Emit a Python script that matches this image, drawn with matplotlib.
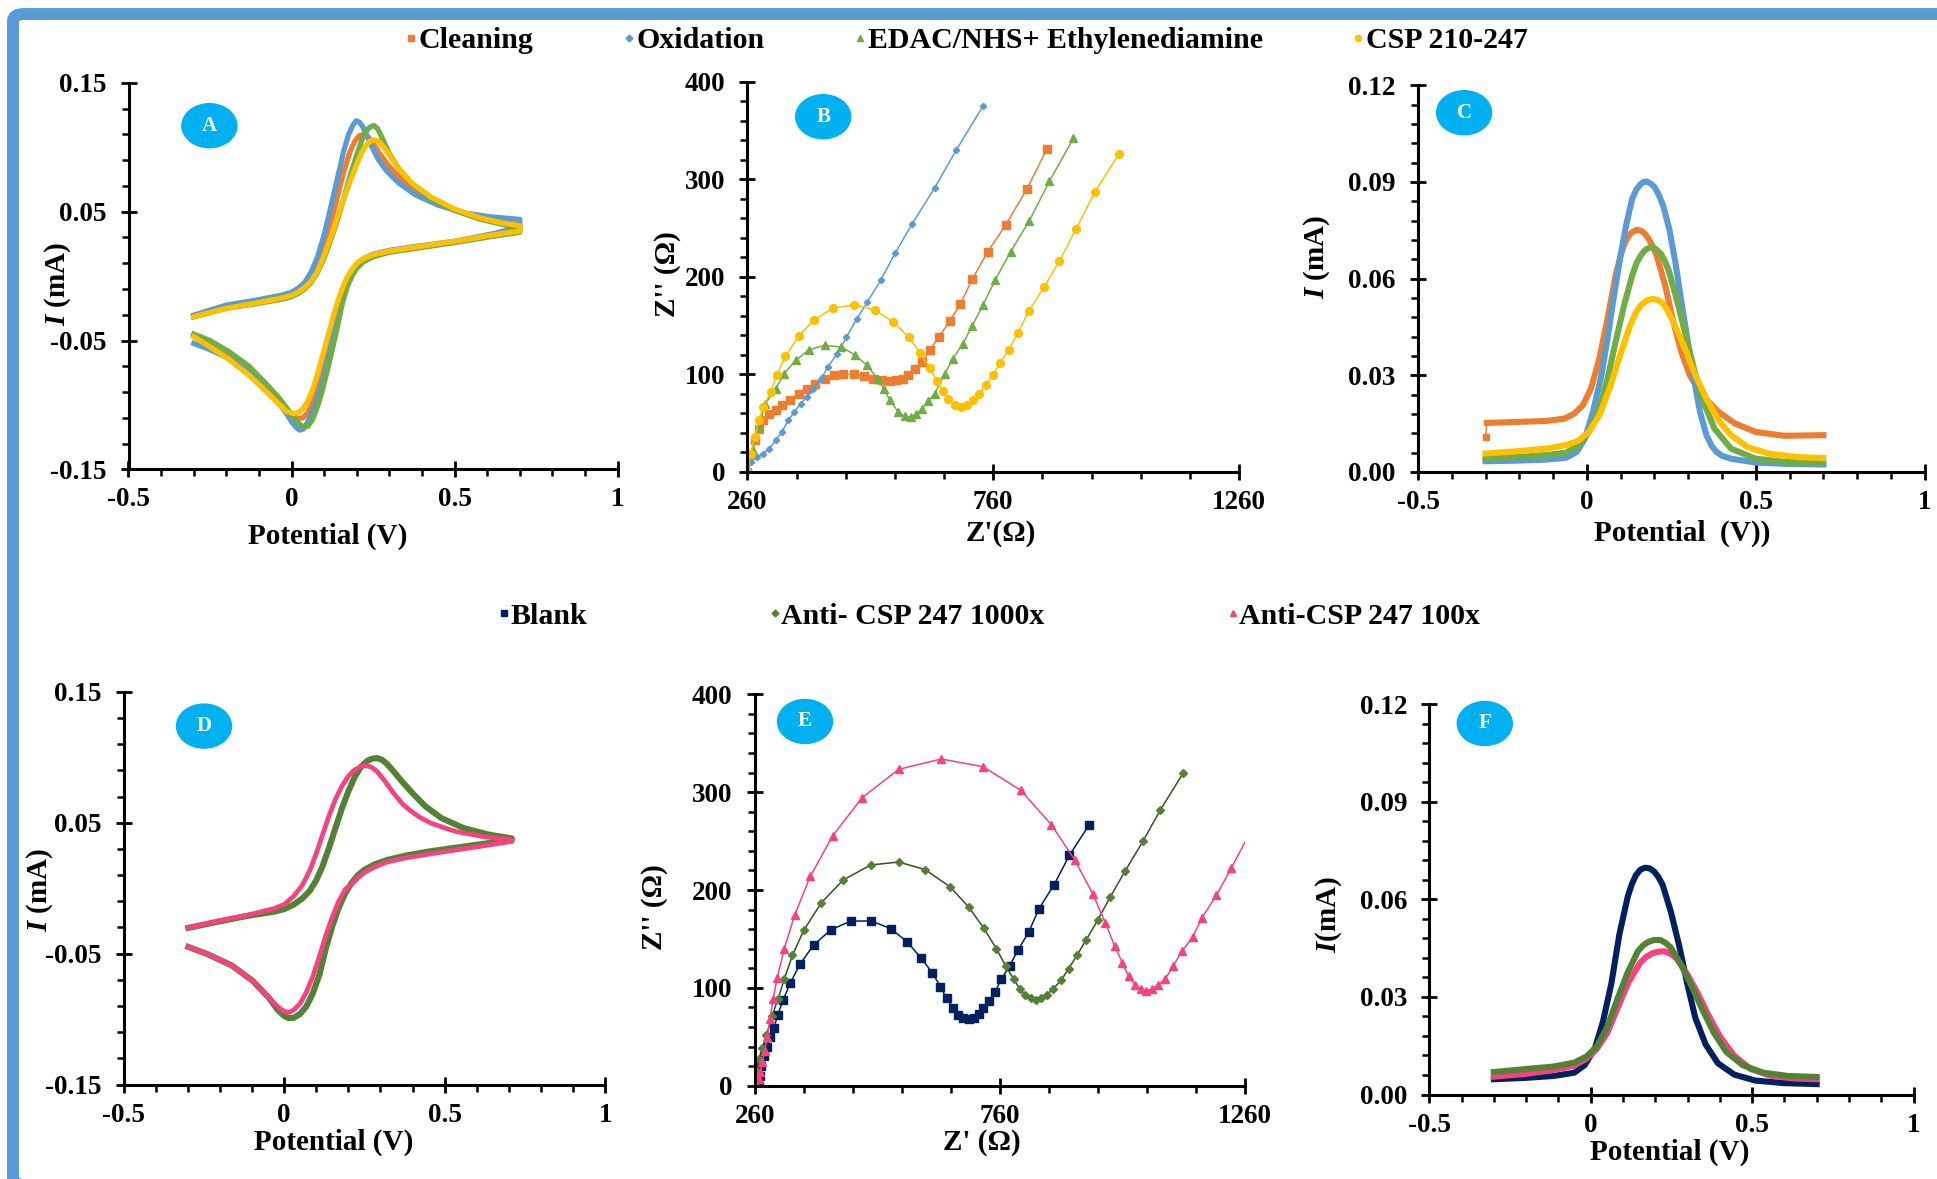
import matplotlib.pyplot as plt
from matplotlib.ticker import FixedLocator
from matplotlib.patches import Ellipse, FancyBboxPatch
from matplotlib.lines import Line2D
import numpy as np

plt.rcParams['font.family'] = 'Liberation Serif'
plt.rcParams['font.weight'] = 'bold'
plt.rcParams['axes.labelweight'] = 'bold'
plt.rcParams['mathtext.fontset'] = 'custom'
plt.rcParams['mathtext.it'] = 'Liberation Serif:italic:bold'
plt.rcParams['mathtext.rm'] = 'Liberation Serif:bold'

# colours
c_clean = '#ED7D31'
c_oxid = '#5B9BD5'
c_edac = '#70AD47'
c_csp = '#FFC000'
c_blank = '#002060'
c_anti1000 = '#548235'
c_anti1000_line = '#34521F'
c_anti100 = '#F7427F'
c_badge = '#00B0F0'
c_frame = '#5B9BD5'

top_labels = ['Cleaning', 'Oxidation', 'EDAC/NHS+ Ethylenediamine', 'CSP 210-247']
bot_labels = ['Blank', 'Anti- CSP 247 1000x', 'Anti-CSP 247 100x']

# ---------------- A : CV, modification steps (forward then reverse scan) ----------------
a_clean_v = [-0.30, -0.20, -0.11, -0.03, 0.00, 0.02, 0.04, 0.06, 0.08, 0.10, 0.12, 0.14, 0.16, 0.18, 0.195, 0.208, 0.221, 0.235, 0.25,
             0.27, 0.30, 0.34, 0.40, 0.47, 0.55, 0.63, 0.70,
             0.70, 0.62, 0.50, 0.38, 0.30, 0.25, 0.22, 0.20, 0.185, 0.17, 0.155, 0.14, 0.125, 0.11, 0.095, 0.08, 0.065, 0.05,
             0.035, 0.018, 0.00, -0.02, -0.05, -0.09, -0.14, -0.20, -0.26, -0.30]
a_clean_i = [-0.0316, -0.0245, -0.0205, -0.0165, -0.0140, -0.0112, -0.007, 0.000, 0.011, 0.025, 0.041, 0.061, 0.081, 0.097, 0.105, 0.109, 0.110, 0.108, 0.103,
             0.095, 0.085, 0.074, 0.063, 0.054, 0.047, 0.042, 0.040,
             0.035, 0.032, 0.0265, 0.0225, 0.0195, 0.0165, 0.013, 0.009, 0.004, -0.003, -0.014, -0.027, -0.042, -0.058, -0.073, -0.087, -0.098, -0.106,
             -0.110, -0.1106, -0.108, -0.102, -0.093, -0.083, -0.072, -0.062, -0.053, -0.047]

a_oxid_v = [-0.30, -0.20, -0.11, -0.03, 0.00, 0.02, 0.04, 0.06, 0.08, 0.10, 0.12, 0.14, 0.16, 0.175, 0.188, 0.198, 0.208, 0.218, 0.23,
            0.245, 0.265, 0.29, 0.33, 0.38, 0.45, 0.53, 0.61, 0.70,
            0.70, 0.62, 0.50, 0.38, 0.30, 0.25, 0.22, 0.20, 0.185, 0.17, 0.155, 0.14, 0.125, 0.11, 0.095, 0.08, 0.065, 0.05,
            0.037, 0.025, 0.012, 0.0, -0.02, -0.05, -0.09, -0.14, -0.20, -0.26, -0.30]
a_oxid_i = [-0.0303, -0.0225, -0.0187, -0.0148, -0.0125, -0.0095, -0.005, 0.003, 0.015, 0.032, 0.053, 0.075, 0.097, 0.110, 0.117, 0.1205, 0.1195, 0.116, 0.110,
            0.101, 0.091, 0.082, 0.072, 0.063, 0.055, 0.049, 0.046, 0.044,
            0.0383, 0.033, 0.027, 0.023, 0.020, 0.017, 0.0135, 0.009, 0.003, -0.006, -0.019, -0.034, -0.050, -0.066, -0.081, -0.094, -0.105, -0.113,
            -0.1185, -0.1195, -0.117, -0.113, -0.105, -0.095, -0.084, -0.073, -0.063, -0.056, -0.0523]

a_edac_v = [-0.30, -0.20, -0.11, -0.03, 0.00, 0.02, 0.04, 0.06, 0.08, 0.10, 0.12, 0.14, 0.16, 0.18, 0.20, 0.215, 0.23, 0.243, 0.253,
            0.265, 0.28, 0.30, 0.33, 0.37, 0.43, 0.50, 0.58, 0.65, 0.70,
            0.70, 0.62, 0.50, 0.38, 0.30, 0.25, 0.22, 0.20, 0.185, 0.17, 0.155, 0.14, 0.125, 0.11, 0.095, 0.08, 0.065, 0.05,
            0.037, 0.025, 0.01, -0.01, -0.04, -0.08, -0.13, -0.19, -0.25, -0.30]
a_edac_i = [-0.0316, -0.0250, -0.0215, -0.0180, -0.0160, -0.0135, -0.010, -0.005, 0.003, 0.014, 0.028, 0.043, 0.060, 0.078, 0.094, 0.105, 0.113, 0.1160, 0.1168,
            0.114, 0.106, 0.095, 0.083, 0.071, 0.060, 0.051, 0.044, 0.040, 0.037,
            0.034, 0.031, 0.026, 0.0215, 0.0185, 0.015, 0.011, 0.006, 0.000, -0.009, -0.022, -0.040, -0.057, -0.073, -0.088, -0.101, -0.111, -0.1165,
            -0.117, -0.115, -0.111, -0.104, -0.094, -0.083, -0.070, -0.059, -0.050, -0.045]

a_csp_v = [-0.30, -0.20, -0.11, -0.03, 0.00, 0.02, 0.04, 0.06, 0.08, 0.10, 0.12, 0.14, 0.16, 0.18, 0.20, 0.215, 0.23, 0.243, 0.253,
           0.265, 0.28, 0.30, 0.33, 0.37, 0.43, 0.50, 0.58, 0.65, 0.70,
           0.70, 0.62, 0.50, 0.38, 0.30, 0.25, 0.22, 0.20, 0.185, 0.17, 0.155, 0.14, 0.125, 0.11, 0.095, 0.08, 0.065, 0.05,
           0.035, 0.02, 0.005, -0.015, -0.04, -0.08, -0.13, -0.19, -0.25, -0.30]
a_csp_i = [-0.0316, -0.0250, -0.0210, -0.0170, -0.0150, -0.0125, -0.009, -0.004, 0.004, 0.016, 0.030, 0.045, 0.060, 0.074, 0.087, 0.096, 0.102, 0.105, 0.1057,
           0.105, 0.101, 0.094, 0.083, 0.072, 0.061, 0.052, 0.045, 0.041, 0.039,
           0.035, 0.032, 0.027, 0.0225, 0.0195, 0.0165, 0.0135, 0.010, 0.005, -0.001, -0.010, -0.021, -0.034, -0.048, -0.062, -0.076, -0.088, -0.097,
           -0.103, -0.106, -0.1067, -0.105, -0.099, -0.089, -0.077, -0.065, -0.055, -0.047]

# ---------------- B : Nyquist, modification steps ----------------
b_clean_zr = [260, 266.8, 275.2, 283.7, 292.1, 304.8, 317.5, 330.2, 347.1, 364.1, 381.0, 397.9, 417.4, 436.0, 454.6, 476.6, 497.0, 516.3, 533.3,
              550.2, 562.9, 575.6, 586.6, 600.9, 615.3, 630.6, 649.2, 671.2, 693.2, 717.7, 749.0, 785.4, 828.5, 869.1]
b_clean_zi = [0, 18.8, 32.4, 44.3, 52.8, 59.7, 63.8, 68.2, 74.0, 80.1, 85.2, 90.4, 95.5, 98.9, 99.9, 99.9, 98.2, 95.5, 93.8,
              93.1, 93.8, 95.5, 98.9, 105.7, 112.5, 124.4, 138.1, 154.1, 172.2, 197.7, 225.7, 253.0, 289.8, 330.7]

b_oxid_zr = [260, 266.8, 279.5, 292.1, 304.8, 317.5, 330.2, 342.9, 355.6, 368.3, 381.0, 393.7, 410.6, 423.3, 442.7, 461.4, 482.5,
             503.7, 531.6, 560.3, 595.0, 640.7, 684.7, 738.8]
b_oxid_zi = [0, 10.2, 15.3, 18.8, 23.9, 32.4, 40.9, 52.8, 61.4, 69.9, 76.7, 85.2, 95.5, 107.4, 121.0, 138.1, 156.8,
             173.9, 196.7, 224.0, 254.0, 290.8, 329.7, 374.4]

b_edac_zr = [260, 271.0, 283.7, 296.4, 317.5, 334.4, 358.1, 385.2, 417.4, 451.2, 478.3, 503.7, 524.8, 537.5, 550.2, 567.1, 579.8, 592.5,
             603.5, 615.3, 628.0, 640.7, 661.9, 677.9, 698.2, 716.8, 738.8, 764.2, 795.5, 833.6, 874.2, 923.3]
b_edac_zi = [0, 22.2, 46.0, 69.9, 85.2, 100.6, 114.2, 125.1, 129.6, 127.9, 120.0, 109.1, 95.5, 85.2, 73.3, 61.4, 56.9, 56.3,
             59.0, 64.8, 72.6, 80.1, 100.6, 115.9, 131.3, 149.3, 170.5, 196.7, 225.7, 257.4, 297.6, 342.0]

b_csp_zr = [260, 266.8, 275.2, 283.7, 292.1, 307.4, 319.2, 337.0, 364.1, 395.4, 434.3, 476.6, 518.9, 557.0, 588.3, 611.9, 630.6, 645.8,
            658.5, 668.6, 681.3, 694.0, 706.7, 719.4, 732.1, 744.8, 759.1, 774.4, 791.3, 810.8, 831.9, 863.2, 894.5, 928.4, 966.4, 1015.5]
b_csp_zi = [0, 18.8, 35.8, 52.8, 66.5, 81.8, 98.9, 118.3, 138.8, 155.8, 167.7, 171.2, 166.0, 153.4, 138.1, 121.7, 106.7, 92.7,
            82.5, 74.3, 68.9, 66.5, 68.2, 74.0, 80.1, 88.6, 98.9, 111.5, 125.1, 142.5, 164.7, 189.2, 215.8, 248.9, 286.4, 325.6]

# ---------------- C : DPV, modification steps ----------------
c_clean_v = [-0.300, -0.296, -0.207, -0.122, -0.067, -0.037, -0.012, 0.012, 0.037, 0.061, 0.085, 0.100, 0.112, 0.122, 0.134, 0.147, 0.159,
             0.171, 0.183, 0.195, 0.207, 0.232, 0.256, 0.280, 0.305, 0.341, 0.390, 0.439, 0.500, 0.585, 0.700]
c_clean_i = [0.0108, 0.0152, 0.0155, 0.0158, 0.0165, 0.0181, 0.0207, 0.0258, 0.0351, 0.0475, 0.0609, 0.0672, 0.0710, 0.0730, 0.0744, 0.0751, 0.0749,
             0.0740, 0.0723, 0.0700, 0.0671, 0.0578, 0.0465, 0.0372, 0.0299, 0.0238, 0.0186, 0.0150, 0.0124, 0.0112, 0.0114]

c_oxid_v = [-0.300, -0.207, -0.122, -0.061, -0.030, -0.006, 0.018, 0.043, 0.061, 0.079, 0.098, 0.116, 0.134, 0.147, 0.159, 0.168, 0.177,
            0.189, 0.201, 0.213, 0.226, 0.244, 0.262, 0.280, 0.299, 0.317, 0.335, 0.354, 0.370, 0.384, 0.400, 0.427, 0.500, 0.585, 0.700]
c_oxid_i = [0.0033, 0.0035, 0.0038, 0.0044, 0.0062, 0.0103, 0.0186, 0.0299, 0.0413, 0.0537, 0.0661, 0.0764, 0.0847, 0.0877, 0.0893, 0.0900, 0.0901,
            0.0895, 0.0883, 0.0860, 0.0826, 0.0754, 0.0651, 0.0527, 0.0403, 0.0289, 0.0186, 0.0114, 0.0080, 0.0062, 0.0050, 0.0041, 0.0029, 0.0025, 0.0023]

c_edac_v = [-0.300, -0.207, -0.122, -0.061, -0.024, 0.006, 0.037, 0.061, 0.085, 0.110, 0.134, 0.147, 0.159, 0.174, 0.189, 0.204, 0.220,
            0.232, 0.244, 0.268, 0.293, 0.317, 0.341, 0.378, 0.427, 0.500, 0.585, 0.700]
c_edac_i = [0.0043, 0.0046, 0.0052, 0.0060, 0.0083, 0.0124, 0.0196, 0.0289, 0.0403, 0.0516, 0.0609, 0.0648, 0.0671, 0.0690, 0.0697, 0.0692, 0.0676,
            0.0652, 0.0620, 0.0527, 0.0423, 0.0320, 0.0227, 0.0134, 0.0072, 0.0041, 0.0031, 0.0028]

c_csp_v = [-0.300, -0.207, -0.122, -0.061, -0.024, 0.006, 0.037, 0.067, 0.098, 0.128, 0.144, 0.159, 0.177, 0.195, 0.210, 0.226, 0.241,
           0.256, 0.287, 0.317, 0.354, 0.390, 0.427, 0.476, 0.537, 0.622, 0.700]
c_csp_i = [0.0057, 0.0064, 0.0072, 0.0083, 0.0098, 0.0124, 0.0176, 0.0258, 0.0361, 0.0454, 0.0492, 0.0516, 0.0532, 0.0537, 0.0533, 0.0522, 0.0497,
           0.0465, 0.0392, 0.0310, 0.0227, 0.0160, 0.0114, 0.0077, 0.0057, 0.0046, 0.0043]

# ---------------- D : CV, antibody ----------------
d_a1000_v = [-0.298, -0.202, -0.111, -0.034, 0.00, 0.03, 0.057, 0.08, 0.10, 0.12, 0.14, 0.16, 0.18, 0.20, 0.22, 0.24, 0.26, 0.275, 0.289,
             0.305, 0.32, 0.34, 0.367, 0.40, 0.44, 0.49, 0.56, 0.638, 0.709,
             0.709, 0.638, 0.535, 0.45, 0.38, 0.32, 0.28, 0.25, 0.23, 0.21, 0.19, 0.17, 0.15, 0.13, 0.11, 0.09, 0.07, 0.05,
             0.03, 0.015, 0.0, -0.02, -0.047, -0.098, -0.163, -0.240, -0.298]
d_a1000_i = [-0.0303, -0.0254, -0.0210, -0.0181, -0.0160, -0.0125, -0.0078, -0.002, 0.006, 0.017, 0.031, 0.046, 0.061, 0.074, 0.085, 0.093, 0.0975, 0.0990, 0.0994,
             0.0980, 0.0950, 0.0895, 0.0815, 0.0725, 0.0625, 0.0535, 0.0458, 0.0409, 0.0380,
             0.0369, 0.0345, 0.0310, 0.0280, 0.0250, 0.0215, 0.0180, 0.0140, 0.0100, 0.0040, -0.0040, -0.0150, -0.0290, -0.0460, -0.0660, -0.0800, -0.0900, -0.0960,
             -0.0990, -0.0993, -0.0975, -0.0930, -0.0838, -0.0707, -0.0590, -0.0502, -0.0449]

d_a100_v = [-0.298, -0.202, -0.111, -0.034, 0.00, 0.03, 0.057, 0.08, 0.10, 0.12, 0.14, 0.16, 0.18, 0.20, 0.22, 0.24, 0.257, 0.272, 0.29,
            0.31, 0.341, 0.37, 0.393, 0.42, 0.457, 0.50, 0.535, 0.625, 0.709,
            0.709, 0.625, 0.522, 0.45, 0.38, 0.32, 0.28, 0.25, 0.23, 0.21, 0.19, 0.17, 0.15, 0.13, 0.11, 0.09, 0.07, 0.05,
            0.03, 0.015, 0.0, -0.02, -0.047, -0.098, -0.163, -0.240, -0.298]
d_a100_i = [-0.0303, -0.0248, -0.0204, -0.0157, -0.0125, -0.0060, 0.0024, 0.0135, 0.0265, 0.0410, 0.0555, 0.0680, 0.0780, 0.0855, 0.0905, 0.0930, 0.0935, 0.0925, 0.0890,
            0.0830, 0.0725, 0.0640, 0.0593, 0.0545, 0.0497, 0.0460, 0.0433, 0.0392, 0.0369,
            0.0357, 0.0325, 0.0287, 0.0260, 0.0232, 0.0200, 0.0160, 0.0120, 0.0080, 0.0030, -0.0010, -0.0100, -0.0220, -0.0360, -0.0520, -0.0670, -0.0790, -0.0880,
            -0.0930, -0.0949, -0.0940, -0.0905, -0.0838, -0.0707, -0.0590, -0.0502, -0.0449]

# ---------------- E : Nyquist, antibody ----------------
e_blank_zr = [267.6, 270.1, 273.5, 278.5, 284.5, 291.2, 298.8, 307.2, 317.3, 332.5, 352.7, 379.7, 415.1, 455.6, 497.8, 537.4, 571.1, 599.0,
              621.7, 638.6, 651.2, 663.9, 674.8, 685.0, 695.9, 706.0, 716.2, 725.4, 737.2, 749.9, 762.5, 779.4, 796.3, 818.2, 839.3, 870.5, 901.7, 942.1]
e_blank_zi = [0, 10.5, 20.3, 30.0, 39.8, 49.5, 59.3, 72.8, 87.2, 105.2, 124.6, 143.7, 159.3, 168.3, 168.3, 160.5, 146.8, 130.5,
              115.7, 101.3, 89.2, 79.8, 72.8, 68.9, 68.2, 69.7, 73.6, 79.1, 86.9, 96.2, 108.7, 122.3, 138.3, 156.6, 180.7, 205.6, 235.6, 266.8]

e_a1000_zr = [260.0, 263.4, 268.4, 275.2, 283.6, 295.4, 307.2, 319.9, 336.7, 360.3, 395.8, 440.4, 496.1, 553.4, 607.4, 658.0, 695.9, 727.1,
              752.4, 771.8, 787.8, 800.5, 811.4, 822.4, 833.4, 844.3, 856.1, 868.8, 884.8, 900.0, 916.8, 935.4, 959.0, 984.3, 1015.5, 1051.7, 1087.2, 1133.5]
e_a1000_zi = [6.6, 16.4, 26.9, 38.6, 51.4, 71.7, 88.4, 108.7, 133.2, 159.3, 187.0, 210.3, 225.5, 228.6, 220.8, 203.3, 182.7, 160.9,
              140.2, 122.3, 109.1, 98.9, 92.3, 89.2, 87.6, 89.2, 93.1, 99.3, 107.9, 119.6, 133.2, 148.8, 169.0, 192.4, 219.7, 250.0, 282.0, 319.4]

e_a100_zr = [265.1, 267.6, 271.0, 275.2, 280.2, 285.3, 291.2, 297.1, 305.5, 319.9, 341.0, 373.0, 418.5, 478.4, 553.4, 640.3, 725.4, 802.2,
             864.6, 912.6, 949.7, 975.0, 993.6, 1009.6, 1022.2, 1035.7, 1047.5, 1057.6, 1069.4, 1083.0, 1096.4, 1113.3, 1131.8, 1152.9, 1171.5,
             1201.0, 1231.3, 1271.0]
e_a100_zi = [0, 6.6, 14.4, 24.1, 35.8, 49.5, 68.2, 88.4, 109.8, 139.8, 174.1, 213.8, 255.1, 294.1, 323.3, 333.8, 326.0, 301.9,
             266.8, 230.6, 195.5, 166.3, 142.9, 125.4, 111.8, 103.2, 99.3, 97.0, 98.9, 103.2, 108.7, 122.7, 137.9, 151.9, 171.4,
             194.4, 222.0, 259.8]

# ---------------- F : DPV, antibody ----------------
f_blank_v = [-0.300, -0.204, -0.115, -0.051, -0.019, 0.013, 0.038, 0.064, 0.089, 0.115, 0.128, 0.140, 0.154, 0.168, 0.183, 0.197, 0.210,
             0.223, 0.248, 0.274, 0.299, 0.324, 0.356, 0.394, 0.445, 0.509, 0.598, 0.700]
f_blank_i = [0.0047, 0.0051, 0.0057, 0.0067, 0.0090, 0.0142, 0.0224, 0.0341, 0.0493, 0.0609, 0.0648, 0.0674, 0.0691, 0.0697, 0.0695, 0.0685, 0.0668,
             0.0644, 0.0563, 0.0458, 0.0341, 0.0236, 0.0154, 0.0096, 0.0061, 0.0043, 0.0035, 0.0032]

f_a1000_v = [-0.300, -0.204, -0.115, -0.051, -0.013, 0.019, 0.051, 0.083, 0.115, 0.146, 0.162, 0.178, 0.197, 0.216, 0.232, 0.248, 0.280,
             0.312, 0.344, 0.382, 0.420, 0.471, 0.534, 0.611, 0.700]
f_a1000_i = [0.0069, 0.0078, 0.0086, 0.0098, 0.0117, 0.0148, 0.0207, 0.0294, 0.0376, 0.0440, 0.0458, 0.0469, 0.0475, 0.0475, 0.0466, 0.0452, 0.0399,
             0.0335, 0.0265, 0.0189, 0.0131, 0.0090, 0.0067, 0.0057, 0.0054]

f_a100_v = [-0.300, -0.204, -0.115, -0.051, -0.013, 0.019, 0.051, 0.083, 0.115, 0.153, 0.172, 0.191, 0.210, 0.229, 0.248, 0.267, 0.299,
            0.331, 0.363, 0.401, 0.445, 0.496, 0.560, 0.636, 0.700]
f_a100_i = [0.0055, 0.0063, 0.0075, 0.0089, 0.0110, 0.0140, 0.0189, 0.0265, 0.0341, 0.0405, 0.0423, 0.0434, 0.0439, 0.0440, 0.0432, 0.0417, 0.0370,
            0.0312, 0.0247, 0.0177, 0.0119, 0.0078, 0.0057, 0.0049, 0.0047]

W, H = 1937, 1179
fig = plt.figure(figsize=(W / 100, H / 100), dpi=100)


def px_box(left, top, right, bottom):
    return [left / W, 1 - bottom / H, (right - left) / W, (bottom - top) / H]


def style(ax, xlim, ylim, xmaj, xlab, xmin, ymaj, ylab, ymin):
    ax.set_facecolor('none')
    ax.set_xlim(*xlim)
    ax.set_ylim(*ylim)
    for s in ['top', 'right']:
        ax.spines[s].set_visible(False)
    for s in ['left', 'bottom']:
        ax.spines[s].set_linewidth(2.2)
    ax.set_xticks(xmaj, xlab)
    ax.set_yticks(ymaj, ylab)
    ax.xaxis.set_minor_locator(FixedLocator(xmin))
    ax.yaxis.set_minor_locator(FixedLocator(ymin))
    ax.tick_params(which='major', direction='inout', length=12, width=2, labelsize=19.5)
    ax.tick_params(axis='x', which='major', pad=7)
    ax.tick_params(axis='y', which='major', pad=10)
    ax.tick_params(which='minor', direction='out', length=5, width=1.8)


def labels(ax, xl, yl, xpos, ypos):
    ax.set_xlabel(xl, fontsize=21, va='center')
    ax.set_ylabel(yl, fontsize=21, va='center')
    ax.xaxis.set_label_coords(*xpos)
    ax.yaxis.set_label_coords(*ypos)


cv_xt = [-0.5, 0, 0.5, 1]
cv_xl = ['-0.5', '0', '0.5', '1']
cv_yt = [-0.15, -0.05, 0.05, 0.15]
cv_yl = ['-0.15', '-0.05', '0.05', '0.15']
dpv_yt = [0, 0.03, 0.06, 0.09, 0.12]
dpv_yl = ['0.00', '0.03', '0.06', '0.09', '0.12']
eis_xt = [260, 760, 1260]
eis_yt = [0, 100, 200, 300, 400]

axA = fig.add_axes(px_box(128.5, 82.8, 617.6, 469.4))
axB = fig.add_axes(px_box(747.4, 81.5, 1239, 471.9))
axC = fig.add_axes(px_box(1418, 85.2, 1924.6, 471.9))
axD = fig.add_axes(px_box(123.5, 691.8, 605.3, 1084.6))
axE = fig.add_axes(px_box(754.8, 694.2, 1245.2, 1085.8))
axF = fig.add_axes(px_box(1429.3, 704.1, 1913.5, 1094.5))

# A
lw_cv = 3.8
axA.plot(a_clean_v, a_clean_i, color=c_clean, lw=lw_cv)
axA.plot(a_oxid_v, a_oxid_i, color=c_oxid, lw=lw_cv)
axA.plot(a_edac_v, a_edac_i, color=c_edac, lw=lw_cv)
axA.plot(a_csp_v, a_csp_i, color=c_csp, lw=lw_cv)
style(axA, (-0.5, 1), (-0.15, 0.15), cv_xt, cv_xl, np.linspace(-0.5, 1, 16),
      cv_yt, cv_yl, np.linspace(-0.15, 0.15, 16))
labels(axA, 'Potential (V)', r'$I$ (mA)', (0.407, -0.174), (-0.144, 0.48))

# B
axB.plot(b_clean_zr, b_clean_zi, color=c_clean, lw=1.1, marker='s', ms=5.3)
axB.plot(b_oxid_zr, b_oxid_zi, color=c_oxid, lw=1.1, marker='D', ms=3.2)
axB.plot(b_edac_zr, b_edac_zi, color=c_edac, lw=1.1, marker='^', ms=5.8)
axB.plot(b_csp_zr, b_csp_zi, color=c_csp, lw=1.1, marker='o', ms=5.6)
style(axB, (260, 1260), (0, 400), eis_xt, [str(v) for v in eis_xt], np.arange(260, 1261, 100),
      eis_yt, [str(v) for v in eis_yt], np.arange(0, 401, 20))
labels(axB, "Z'(Ω)", "Z'' (Ω)", (0.515, -0.157), (-0.163, 0.507))

# C
lw_dpv = 4.4
axC.plot(c_clean_v[:2], c_clean_i[:2], color=c_clean, lw=1, marker='s', ms=4, markevery=[0])
axC.plot(c_clean_v[1:], c_clean_i[1:], color=c_clean, lw=lw_dpv)
axC.plot(c_oxid_v, c_oxid_i, color=c_oxid, lw=lw_dpv)
axC.plot(c_edac_v, c_edac_i, color=c_edac, lw=lw_dpv)
axC.plot(c_csp_v, c_csp_i, color=c_csp, lw=lw_dpv)
style(axC, (-0.5, 1), (0, 0.12), cv_xt, cv_xl, np.linspace(-0.5, 1, 16),
      dpv_yt, dpv_yl, np.linspace(0, 0.12, 21))
labels(axC, 'Potential  (V))', r'$I$ (mA)', (0.521, -0.158), (-0.2, 0.556))

# D (blank trace lies under the 1000x trace)
axD.plot(d_a1000_v, d_a1000_i, color=c_anti1000, lw=4.4)
axD.plot(d_a100_v, d_a100_i, color=c_anti100, lw=3.4)
style(axD, (-0.5, 1), (-0.15, 0.15), cv_xt, cv_xl, np.linspace(-0.5, 1, 16),
      cv_yt, cv_yl, np.linspace(-0.15, 0.15, 16))
labels(axD, 'Potential (V)', r'$I$ (mA)', (0.436, -0.147), (-0.175, 0.496))

# E
axE.plot(e_blank_zr, e_blank_zi, color=c_blank, lw=1.1, marker='s', ms=5.5)
axE.plot(e_a1000_zr, e_a1000_zi, color=c_anti1000_line, lw=1.1, marker='D', ms=3.8,
         mfc=c_anti1000, mec=c_anti1000)
axE.plot(e_a100_zr, e_a100_zi, color=c_anti100, lw=1.1, marker='^', ms=5.5)
style(axE, (260, 1260), (0, 400), eis_xt, [str(v) for v in eis_xt], np.arange(260, 1261, 100),
      eis_yt, [str(v) for v in eis_yt], np.arange(0, 401, 20))
labels(axE, "Z' (Ω)", "Z'' (Ω)", (0.463, -0.145), (-0.204, 0.457))

# F
axF.plot(f_blank_v, f_blank_i, color=c_blank, lw=lw_dpv)
axF.plot(f_a100_v, f_a100_i, color=c_anti100, lw=lw_dpv)
axF.plot(f_a1000_v, f_a1000_i, color=c_anti1000, lw=lw_dpv)
style(axF, (-0.5, 1), (0, 0.12), cv_xt, cv_xl, np.linspace(-0.5, 1, 16),
      dpv_yt, dpv_yl, np.linspace(0, 0.12, 21))
labels(axF, 'Potential (V)', r'$I$(mA)', (0.496, -0.147), (-0.207, 0.46))

# legends
top_handles = [Line2D([], [], ls='none', marker='s', ms=4.5, color=c_clean),
               Line2D([], [], ls='none', marker='D', ms=3.5, color=c_oxid),
               Line2D([], [], ls='none', marker='^', ms=4.5, color=c_edac),
               Line2D([], [], ls='none', marker='o', ms=4.5, color=c_csp)]
fig.legend(top_handles, top_labels, loc='center left', bbox_to_anchor=(405.5 / W, 1 - 41 / H),
           ncol=4, frameon=False, fontsize=21.5, handlelength=0.4, handletextpad=0.05,
           columnspacing=3.0, borderpad=0, borderaxespad=0)

bot_handles = [Line2D([], [], ls='none', marker='s', ms=4.5, color=c_blank),
               Line2D([], [], ls='none', marker='D', ms=3.5, color=c_anti1000),
               Line2D([], [], ls='none', marker='^', ms=4.5, color=c_anti100)]
fig.legend(bot_handles, bot_labels, loc='center left', bbox_to_anchor=(498.5 / W, 1 - 616 / H),
           ncol=3, frameon=False, fontsize=21.5, handlelength=0.4, handletextpad=0.0,
           columnspacing=6.1, borderpad=0, borderaxespad=0)

# panel badges
badges = [('A', 209.4, 125.7), ('B', 823.2, 116.7), ('C', 1464.1, 112.7),
          ('D', 204.0, 726.1), ('E', 805.0, 721.5), ('F', 1484.8, 723.5)]
for letter, cx, cy in badges:
    fig.add_artist(Ellipse((cx / W, 1 - cy / H), 55 / W, 44 / H, transform=fig.transFigure,
                           color=c_badge, zorder=5))
    fig.text(cx / W, 1 - cy / H, letter, color='white', fontsize=15, ha='center', va='center', zorder=6)

# blue frame (open at right)
fig.add_artist(FancyBboxPatch((13 / W, 1 - 1185 / H), 1960 / W, (1185 - 14) / H,
                              boxstyle='round,pad=0,rounding_size=0.006', transform=fig.transFigure,
                              fc='none', ec=c_frame, lw=8.6, zorder=0))

fig.savefig('out.png', dpi=100)
